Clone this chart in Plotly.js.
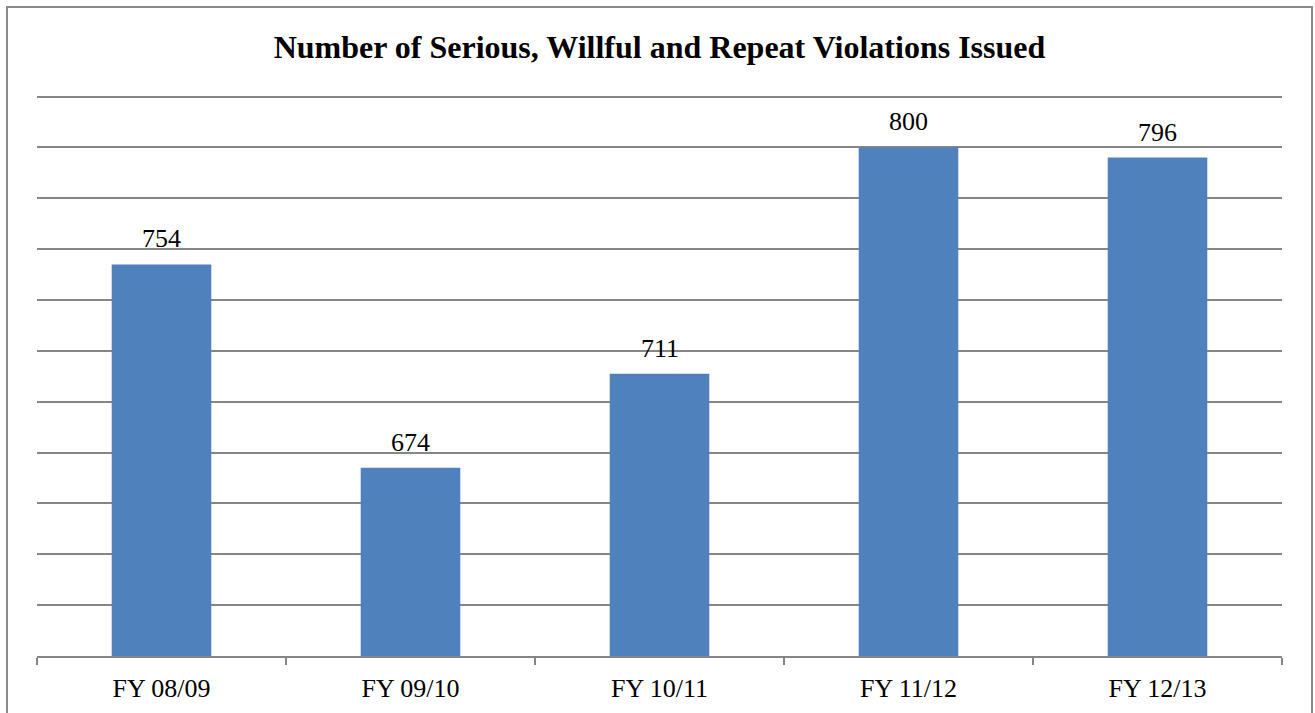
<!DOCTYPE html>
<html>
<head>
<meta charset="utf-8">
<script src="https://cdn.plot.ly/plotly-3.0.1.min.js"></script>
<style>
html,body{margin:0;padding:0;background:#fff;}
#chart{width:1315px;height:713px;}
</style>
</head>
<body>
<div id="chart"></div>
<script>
const categories = ["FY 08/09", "FY 09/10", "FY 10/11", "FY 11/12", "FY 12/13"];
const violations = [754, 674, 711, 800, 796];
const chartTitle = "Number of Serious, Willful and Repeat Violations Issued";

const serif = "Liberation Serif, Times New Roman, serif";

const trace = {
  type: "bar",
  x: categories,
  y: violations,
  marker: {color: "#4F81BD"},
  cliponaxis: false,
  hoverinfo: "x+y"
};

const labels = categories.map((c, i) => ({
  x: c, y: violations[i], xref: "x", yref: "y",
  text: String(violations[i]),
  showarrow: false,
  yanchor: "bottom",
  yshift: 9,
  font: {family: serif, size: 26, color: "#000"}
}));

const layout = {
  width: 1315,
  height: 713,
  margin: {l: 37, r: 33, t: 94, b: 57},
  paper_bgcolor: "#fff",
  plot_bgcolor: "#fff",
  bargap: 0.6,
  showlegend: false,
  title: {
    text: "<b>" + chartTitle + "</b>",
    font: {family: serif, size: 32, color: "#000"},
    x: 0.5015, xanchor: "center",
    y: 1 - 47/713, yanchor: "middle", yref: "container"
  },
  xaxis: {
    type: "category",
    tickson: "boundaries",
    ticks: "outside",
    ticklen: 7,
    tickcolor: "#868686",
    tickwidth: 1.5,
    showline: true,
    linecolor: "#868686",
    linewidth: 1.5,
    showgrid: false,
    tickfont: {family: serif, size: 26, color: "#000"},
    ticklabelstandoff: 8
  },
  yaxis: {
    range: [600, 821],
    dtick: 20,
    tick0: 600,
    showgrid: true,
    gridcolor: "#868686",
    gridwidth: 1.5,
    showticklabels: false,
    zeroline: false,
    showline: false,
    ticks: ""
  },
  annotations: labels,
  shapes: [{
    type: "rect", xref: "paper", yref: "paper",
    x0: (7 - 37) / 1245, x1: (1312 - 37) / 1245,
    y0: (656 - 720) / 562, y1: (656 - 7) / 562,
    line: {color: "#8a8a8a", width: 2}
  }]
};

Plotly.newPlot("chart", [trace], layout, {displayModeBar: false});
</script>
</body>
</html>
